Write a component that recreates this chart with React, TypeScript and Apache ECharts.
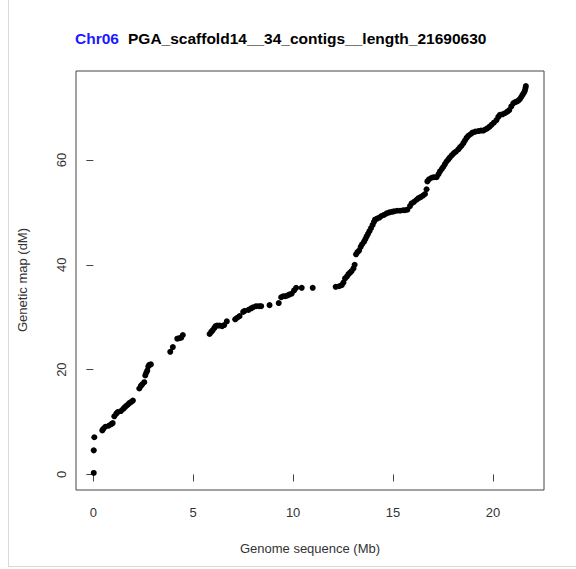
import React, { useEffect, useRef } from "react";
import * as echarts from "echarts";

const titleChr = "Chr06";
const titleMain = "PGA_scaffold14__34_contigs__length_21690630";
const xAxisTitle = "Genome sequence (Mb)";
const yAxisTitle = "Genetic map (dM)";
const xTicks = [0, 5, 10, 15, 20];
const yTicks = [0, 20, 40, 60];

// Physical position (Mb)
const posMb = [
  0.02, 0.02, 0.05, 0.45, 0.5, 0.6, 0.77, 0.9, 0.97, 1.05, 1.15, 1.22, 1.38, 1.5, 1.57, 1.65, 1.72, 1.8, 1.88, 1.98,
  2.3, 2.38, 2.45, 2.55, 2.6, 2.65, 2.7, 2.75, 2.8, 2.88,
  3.85, 3.98, 4.2, 4.3, 4.4, 4.48,
  5.82, 5.9, 5.97, 6.05, 6.12, 6.2, 6.32, 6.45, 6.55, 6.68, 7.1, 7.2, 7.32, 7.5, 7.57, 7.77, 7.9, 8.0, 8.15, 8.3, 8.4,
  8.82, 9.28, 9.4, 9.5, 9.6, 9.7, 9.8, 9.93, 10.05, 10.15, 10.43, 10.98,
  12.13, 12.3, 12.43, 12.52, 12.6, 12.7, 12.77, 12.85, 12.93, 13.02, 13.08, 13.15, 13.22, 13.3, 13.38, 13.45, 13.55,
  13.62, 13.68, 13.75, 13.82, 13.9, 13.98, 14.05, 14.1, 14.2, 14.32, 14.42, 14.55, 14.68, 14.82, 14.95, 15.05, 15.2,
  15.35, 15.5, 15.6, 15.72, 15.85, 15.93, 16.05, 16.18, 16.28, 16.38, 16.5, 16.6, 16.68, 16.72, 16.8, 16.93, 17.05,
  17.18, 17.28, 17.35, 17.45, 17.52, 17.6, 17.68, 17.77, 17.85, 17.95, 18.05, 18.15, 18.27, 18.35, 18.43, 18.52, 18.6,
  18.68, 18.77, 18.88, 18.98, 19.12, 19.27, 19.4, 19.52, 19.62, 19.72, 19.82, 19.93, 20.05, 20.18, 20.27, 20.35,
  20.48, 20.6, 20.72, 20.82, 20.92, 21.02, 21.1, 21.18, 21.27, 21.35, 21.42, 21.48, 21.55, 21.6, 21.63, 21.65,
];

// Genetic position (cM)
const mapCM = [
  0.3, 4.6, 7.1, 8.4, 8.7, 9.1, 9.3, 9.6, 9.8, 11.1, 11.6, 11.9, 12.1, 12.5, 12.8, 13.1, 13.3, 13.6, 13.8, 14.1,
  16.4, 16.9, 17.2, 17.6, 18.9, 19.4, 19.8, 20.6, 20.9, 21.0,
  23.4, 24.3, 25.9, 26.0, 26.1, 26.6,
  26.8, 27.2, 27.5, 27.9, 28.3, 28.4, 28.4, 28.3, 28.5, 29.2, 29.6, 29.9, 30.2, 31.0, 31.2, 31.4, 31.7, 31.9, 32.1, 32.1, 32.1,
  32.3, 32.7, 33.8, 34.0, 34.0, 34.1, 34.3, 34.5, 35.1, 35.6, 35.6, 35.6,
  35.8, 35.9, 36.1, 36.6, 37.4, 37.8, 38.2, 38.5, 38.8, 39.3, 40.0, 42.0, 42.4, 42.7, 43.4, 43.9, 44.4,
  44.9, 45.4, 45.9, 46.4, 47.0, 47.6, 48.2, 48.6, 48.8, 49.0, 49.3, 49.5, 49.8, 50.0, 50.1, 50.2, 50.3,
  50.3, 50.4, 50.4, 50.5, 51.2, 51.7, 52.0, 52.4, 52.7, 52.9, 53.2, 53.5, 54.4, 55.9, 56.3, 56.6, 56.7,
  56.7, 57.3, 57.8, 58.3, 58.7, 59.2, 59.7, 60.1, 60.5, 60.9, 61.3, 61.6, 62.0, 62.4, 62.7, 63.2, 63.7,
  64.2, 64.6, 64.9, 65.2, 65.4, 65.5, 65.6, 65.6, 65.8, 66.0, 66.3, 66.7, 67.1, 67.6, 68.2, 68.6,
  68.7, 68.9, 69.2, 69.5, 70.2, 70.8, 71.0, 71.1, 71.3, 71.6, 72.0, 72.4, 72.8, 73.2, 73.7, 74.1,
];

export default function App() {
  const ref = useRef<HTMLDivElement>(null);
  useEffect(() => {
    if (!ref.current) return;
    const chart = echarts.init(ref.current, null, { renderer: "svg" });
    const xMaxData = 21.69;
    const yMaxData = 74.0;
    const data = posMb.map((x, i) => [x, mapCM[i]]);
    const font = "Liberation Sans, Arial, Helvetica, sans-serif";
    chart.setOption({
      animation: false,
      backgroundColor: "#ffffff",
      grid: {
        left: 76,
        top: 71,
        width: 468,
        height: 419,
        show: true,
        borderColor: "#444",
        borderWidth: 1,
        backgroundColor: "transparent",
      },
      xAxis: {
        type: "value",
        min: -0.04 * xMaxData,
        max: xMaxData * 1.04,
        axisLine: { show: false },
        splitLine: { show: false },
        axisTick: {
          show: true,
          customValues: xTicks,
          length: 7,
          inside: false,
          lineStyle: { color: "#444", width: 1 },
        },
        axisLabel: {
          customValues: xTicks,
          margin: 16,
          fontSize: 13,
          color: "#333",
          fontFamily: font,
        },
      },
      yAxis: {
        type: "value",
        min: -0.04 * yMaxData,
        max: yMaxData * 1.04,
        axisLine: { show: false },
        splitLine: { show: false },
        axisTick: {
          show: true,
          customValues: yTicks,
          length: 7,
          inside: false,
          lineStyle: { color: "#444", width: 1 },
        },
        axisLabel: {
          customValues: yTicks,
          rotate: 90,
          margin: 8,
          fontSize: 13,
          color: "#333",
          fontFamily: font,
        },
      },
      series: [
        {
          type: "scatter",
          data,
          symbol: "circle",
          symbolSize: 6,
          itemStyle: { color: "#000", opacity: 1 },
        },
      ],
      graphic: [
        {
          type: "line",
          shape: { x1: 8.5, y1: 0, x2: 8.5, y2: 566 },
          style: { stroke: "#d9d9d9", lineWidth: 1 },
        },
        {
          type: "line",
          shape: { x1: 8, y1: 566.5, x2: 576, y2: 566.5 },
          style: { stroke: "#d9d9d9", lineWidth: 1 },
        },
        {
          type: "text",
          x: 75,
          y: 38,
          style: {
            text: titleChr,
            fill: "#1a1aff",
            font: "bold 15.5px " + font,
            verticalAlign: "middle",
          },
        },
        {
          type: "text",
          x: 128,
          y: 38,
          style: {
            text: titleMain,
            fill: "#000",
            font: "bold 15.5px " + font,
            verticalAlign: "middle",
          },
        },
        {
          type: "text",
          x: 310,
          y: 548,
          style: {
            text: xAxisTitle,
            fill: "#333",
            font: "13px " + font,
            align: "center",
            verticalAlign: "middle",
          },
        },
        {
          type: "text",
          x: 22,
          y: 280,
          rotation: Math.PI / 2,
          style: {
            text: yAxisTitle,
            fill: "#333",
            font: "13px " + font,
            align: "center",
            verticalAlign: "middle",
          },
        },
      ],
    });
    return () => chart.dispose();
  }, []);
  return (
    <div
      ref={ref}
      style={{ position: "fixed", left: 0, top: 0, width: 576, height: 569, background: "#fff" }}
    />
  );
}
